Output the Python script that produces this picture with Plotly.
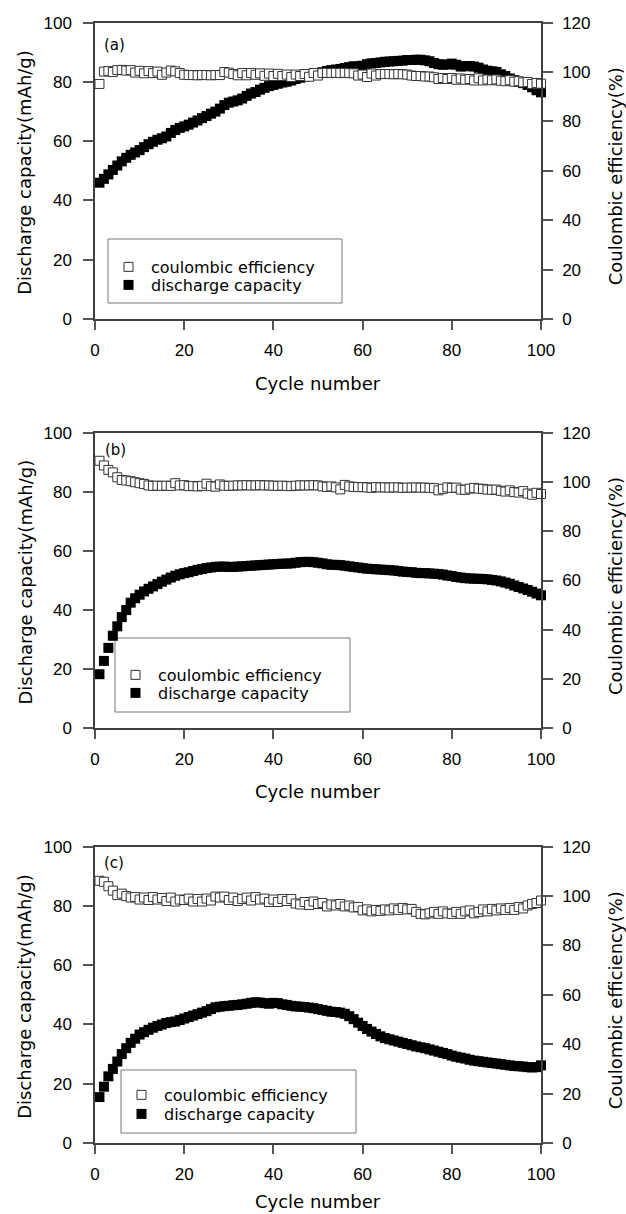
import plotly.graph_objects as go

W, H = 626, 1214

cycles = list(range(1, 101))

# Panel (a)
dc_a = [46.0, 47.3, 48.8, 50.3, 51.8, 53.2, 54.4, 55.4, 56.2, 57.0,
        58.0, 59.0, 59.8, 60.5, 61.0, 61.6, 62.8, 63.8, 64.5, 65.0,
        65.6, 66.3, 67.0, 67.8, 68.5, 69.3, 70.0, 71.0, 72.2, 73.0,
        73.4, 73.8, 74.4, 75.3, 76.1, 76.6, 77.4, 78.0, 78.6, 79.0,
        79.4, 79.8, 80.1, 80.5, 81.0, 81.4, 81.8, 82.2, 82.6, 83.0,
        83.3, 83.7, 84.0, 84.2, 84.4, 84.7, 85.0, 85.3, 85.2, 85.5,
        86.0, 86.3, 86.4, 86.6, 86.8, 86.9, 87.0, 87.1, 87.2, 87.4,
        87.4, 87.5, 87.5, 87.3, 87.0, 86.4, 86.0, 85.8, 85.9, 86.2,
        85.8, 85.2, 85.3, 85.4, 85.2, 84.8, 84.2, 83.8, 83.6, 83.4,
        82.6, 82.0, 81.2, 80.6, 80.0, 79.6, 79.0, 78.2, 77.2, 76.5]
ce_a = [95.2, 100.2, 100.4, 100.0, 100.8, 100.9, 100.6, 100.8, 99.8, 100.5,
        99.5, 100.4, 99.6, 100.2, 98.9, 99.8, 100.6, 100.3, 99.6, 98.9,
        98.8, 98.8, 98.7, 98.8, 98.8, 98.7, 98.8, 98.8, 100.0, 99.8,
        99.2, 98.7, 99.6, 98.7, 99.6, 98.9, 99.5, 98.5, 99.4, 98.4,
        99.3, 98.4, 99.0, 98.0, 99.0, 98.4, 99.2, 98.1, 99.6, 98.6,
        99.6, 99.7, 99.6, 99.7, 99.6, 99.7, 99.6, 99.5, 98.6, 99.0,
        98.0, 99.4, 98.6, 99.2, 99.2, 99.2, 99.1, 99.2, 99.1, 99.0,
        98.6, 98.4, 98.4, 98.2, 98.2, 97.9, 97.2, 97.6, 97.2, 97.6,
        96.9, 97.4, 96.9, 97.2, 96.6, 97.5, 96.6, 97.0, 96.7, 97.0,
        96.5, 96.3, 96.7, 96.1, 96.3, 95.8, 96.0, 95.2, 95.6, 95.3]

# Panel (b)
dc_b = [18.3, 22.8, 27.2, 31.3, 34.5, 37.6, 40.0, 42.5, 44.0, 45.2,
        46.3, 47.2, 48.0, 48.8, 49.6, 50.3, 51.0, 51.6, 52.1, 52.5,
        52.8, 53.2, 53.6, 53.9, 54.2, 54.4, 54.6, 54.7, 54.7, 54.6,
        54.6, 54.7, 54.8, 54.9, 55.0, 55.1, 55.2, 55.3, 55.4, 55.5,
        55.6, 55.7, 55.7, 55.8, 56.0, 56.2, 56.3, 56.3, 56.2, 56.0,
        55.8, 55.5, 55.3, 55.3, 55.2, 55.0, 54.8, 54.6, 54.4, 54.2,
        54.0, 53.9, 53.8, 53.7, 53.6, 53.5, 53.4, 53.2, 53.0, 52.9,
        52.8, 52.6, 52.5, 52.5, 52.4, 52.3, 52.2, 52.0, 51.7, 51.5,
        51.2, 51.0, 50.8, 50.7, 50.6, 50.6, 50.5, 50.4, 50.2, 50.0,
        49.7, 49.3, 48.9, 48.3, 47.8, 47.3, 46.8, 46.2, 45.6, 45.0]
ce_b = [108.6, 106.7, 104.9, 103.9, 101.9, 100.8, 100.6, 100.3, 99.9, 99.5,
        99.2, 98.6, 98.4, 98.5, 98.4, 98.5, 98.4, 99.5, 98.6, 98.7,
        98.3, 98.4, 98.2, 98.4, 99.3, 98.3, 98.1, 99.0, 98.5, 98.4,
        98.5, 98.6, 98.6, 98.7, 98.6, 98.6, 98.7, 98.6, 98.6, 98.5,
        98.4, 98.5, 98.4, 98.3, 98.5, 98.6, 98.6, 98.6, 98.7, 98.6,
        98.2, 98.0, 98.2, 97.8, 97.0, 98.8, 98.2, 98.0, 97.9, 97.9,
        97.8, 97.6, 97.9, 97.8, 97.8, 97.7, 97.8, 97.8, 97.6, 97.7,
        97.7, 97.8, 97.7, 97.7, 97.6, 97.5, 96.6, 97.2, 97.8, 97.6,
        97.7, 96.9, 96.8, 97.3, 97.6, 97.3, 97.2, 96.9, 96.8, 96.9,
        96.4, 96.1, 96.6, 95.9, 95.7, 96.3, 95.3, 94.8, 95.6, 95.1]

# Panel (c)
dc_c = [15.5, 19.0, 22.5, 25.0, 27.5, 30.0, 32.0, 33.8, 35.2, 36.6,
        37.4, 38.2, 38.9, 39.5, 40.0, 40.5, 40.8, 41.0, 41.5, 42.0,
        42.5, 43.0, 43.5, 44.0, 44.5, 45.2, 45.8, 46.0, 46.2, 46.3,
        46.5, 46.6, 46.8, 47.0, 47.3, 47.5, 47.4, 47.2, 47.0, 47.3,
        47.2, 46.8, 46.6, 46.3, 46.1, 46.0, 45.9, 45.7, 45.5, 45.2,
        44.9, 44.6, 44.3, 44.2, 44.0, 43.6, 42.8, 41.8, 40.6, 39.5,
        38.5, 37.6, 36.8, 36.0, 35.4, 35.0, 34.6, 34.2, 33.8, 33.4,
        33.0, 32.6, 32.3, 32.0, 31.6, 31.2, 30.8, 30.4, 30.0, 29.5,
        29.1, 28.8, 28.5, 28.1, 27.8, 27.6, 27.4, 27.2, 27.0, 26.8,
        26.6, 26.4, 26.2, 26.0, 25.9, 25.8, 25.6, 25.5, 25.6, 26.2]
ce_c = [106.2, 105.8, 104.0, 102.2, 100.4, 101.0, 100.0, 99.4, 99.6, 98.6,
        99.4, 98.4, 99.6, 98.6, 99.2, 98.0, 99.4, 97.8, 98.6, 98.4,
        99.0, 97.8, 98.8, 97.8, 99.0, 98.2, 99.8, 99.4, 99.8, 98.4,
        99.4, 98.0, 98.8, 99.4, 98.2, 99.6, 98.6, 99.0, 97.6, 98.6,
        97.6, 98.8, 98.0, 98.8, 97.0, 96.6, 97.6, 96.4, 97.8, 96.8,
        97.2, 95.8, 96.6, 96.2, 96.8, 95.8, 96.2, 95.4, 95.6, 94.2,
        94.6, 93.8, 94.4, 94.0, 94.6, 94.2, 95.0, 94.4, 95.2, 94.6,
        94.8, 93.6, 92.8, 92.6, 93.0, 93.6, 92.8, 93.8, 93.0, 92.8,
        93.6, 92.8, 93.8, 94.2, 93.0, 93.6, 94.6, 93.8, 94.8, 94.2,
        95.0, 94.4, 95.2, 94.4, 95.6, 95.0, 96.2, 96.8, 97.2, 98.2]

panel_labels = ["(a)", "(b)", "(c)"]
x_ticks = [0, 20, 40, 60, 80, 100]
left_ticks = [0, 20, 40, 60, 80, 100]
right_ticks = [0, 20, 40, 60, 80, 100, 120]
name_ce = "coulombic efficiency"
name_dc = "discharge capacity"
x_title = "Cycle number"
left_title = "Discharge capacity(mAh/g)"
right_title = "Coulombic efficiency(%)"

panels = [(dc_a, ce_a), (dc_b, ce_b), (dc_c, ce_c)]

# pixel geometry
PX_L, PX_R = 95, 541
panel_px = [(22.7, 319.0), (432.7, 728.3), (846.7, 1143.0)]
legend_boxes = [(108, 342, 239, 303, 267, 285),
                (115, 350, 638, 712, 675, 693),
                (121, 356, 1070, 1133, 1095, 1114)]
label_pos = [(114, 45), (115, 450), (114, 863)]
xtitle_off = [64, 63, 58]

def px(x):
    return x / W

def py(y):
    return 1 - y / H

AX = "#404040"
TICKFONT = dict(family="Liberation Sans, Arial", size=17, color="black")
TITLEFONT = dict(family="DejaVu Sans, Verdana", size=18, color="black")
LEGFONT = dict(family="DejaVu Sans, Verdana", size=16, color="black")

fig = go.Figure()
layout = dict(width=W, height=H, margin=dict(l=0, r=0, t=0, b=0),
              paper_bgcolor="white", plot_bgcolor="white", showlegend=True)
annotations = []
shapes = []

for i, (dc, ce) in enumerate(panels):
    k = i + 1
    xa = "x" if k == 1 else f"x{k}"
    yl_n = 2 * i + 1
    yr_n = 2 * i + 2
    yl = "y" if yl_n == 1 else f"y{yl_n}"
    yr = f"y{yr_n}"
    leg1 = "legend" if i == 0 else f"legend{2 * i + 1}"
    leg2 = f"legend{2 * i + 2}"

    fig.add_trace(go.Scatter(
        x=cycles, y=dc, mode="markers", name=name_dc, xaxis=xa, yaxis=yl,
        marker=dict(symbol="square", size=10, color="black",
                    line=dict(width=0)),
        cliponaxis=False, legend=leg2))
    fig.add_trace(go.Scatter(
        x=cycles, y=ce, mode="markers", name=name_ce, xaxis=xa, yaxis=yr,
        marker=dict(symbol="square", size=9, color="white",
                    line=dict(width=1, color="#333333")),
        cliponaxis=False, legend=leg1))

    top, bot = panel_px[i]
    dom_y = [py(bot), py(top)]
    xkey = "xaxis" if k == 1 else f"xaxis{k}"
    ylkey = "yaxis" if yl_n == 1 else f"yaxis{yl_n}"
    yrkey = f"yaxis{yr_n}"

    layout[xkey] = dict(domain=[px(PX_L), px(PX_R)], anchor=yl, range=[0, 100],
                        tickvals=x_ticks, ticks="outside", ticklen=9, tickwidth=1.5,
                        tickcolor="#555555", showline=True, linecolor=AX, linewidth=1.5,
                        mirror=True, showgrid=False, zeroline=False,
                        tickfont=TICKFONT, ticklabelstandoff=6, automargin=False)
    layout[ylkey] = dict(domain=dom_y, anchor=xa, range=[0, 100],
                         tickvals=left_ticks, ticks="outside", ticklen=10, tickwidth=1.5,
                         tickcolor="#555555", showline=True, linecolor=AX, linewidth=1.5,
                         showgrid=False, zeroline=False, tickfont=TICKFONT,
                         ticklabelstandoff=8, automargin=False)
    layout[yrkey] = dict(overlaying=yl, side="right", anchor=xa, range=[0, 120],
                         tickvals=right_ticks, ticks="outside", ticklen=10, tickwidth=1.5,
                         tickcolor="#555555", showline=True, linecolor=AX, linewidth=1.5,
                         showgrid=False, zeroline=False, tickfont=TICKFONT,
                         ticklabelstandoff=6, automargin=False)

    bx0, bx1, by0, by1, iy1, iy2 = legend_boxes[i]
    shapes.append(dict(type="rect", xref="paper", yref="paper",
                       x0=px(bx0), x1=px(bx1), y0=py(by1), y1=py(by0),
                       line=dict(color="#777777", width=1), fillcolor="white",
                       layer="below"))
    for key, iy in ((leg1, iy1), (leg2, iy2)):
        layout[key] = dict(x=px(bx0 - 2), y=py(iy), xanchor="left", yanchor="middle",
                           bgcolor="rgba(0,0,0,0)", borderwidth=0, font=LEGFONT,
                           itemwidth=35, itemclick=False, itemdoubleclick=False)

    lx, ly = label_pos[i]
    annotations.append(dict(text=panel_labels[i], x=px(lx), y=py(ly), xref="paper",
                            yref="paper", showarrow=False, xanchor="center",
                            yanchor="middle",
                            font=dict(family="DejaVu Sans", size=15, color="black")))
    annotations.append(dict(text=x_title, x=px((PX_L + PX_R) / 2),
                            y=py(bot + xtitle_off[i]),
                            xref="paper", yref="paper", showarrow=False,
                            xanchor="center", yanchor="middle", font=TITLEFONT))
    mid = (top + bot) / 2 + 1.5
    annotations.append(dict(text=left_title, x=px(24.5), y=py(mid), xref="paper",
                            yref="paper", showarrow=False, textangle=-90,
                            xanchor="center", yanchor="middle", font=TITLEFONT))
    annotations.append(dict(text=right_title, x=px(615), y=py(mid + 4), xref="paper",
                            yref="paper", showarrow=False, textangle=-90,
                            xanchor="center", yanchor="middle", font=TITLEFONT))

layout["annotations"] = annotations
layout["shapes"] = shapes
fig.update_layout(**layout)

fig.write_html("out.html")
